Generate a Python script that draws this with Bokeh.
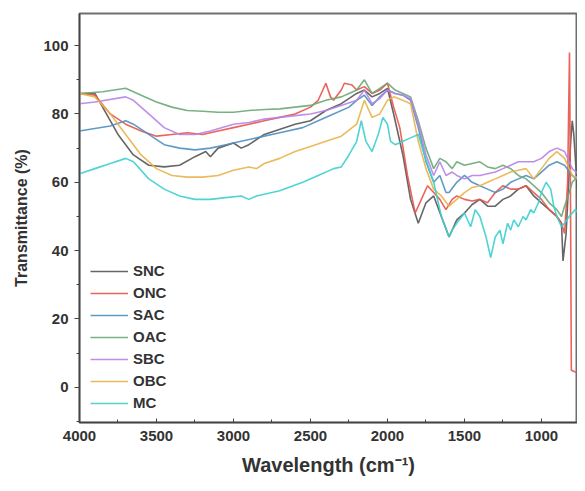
from bokeh.plotting import figure
from bokeh.models import Range1d, Legend, LegendItem, SingleIntervalTicker
from bokeh.embed import file_html
from bokeh.resources import INLINE

series_names = ["SNC", "ONC", "SAC", "OAC", "SBC", "OBC", "MC"]
series_colors = ["#555555", "#e8534a", "#4f8fc0", "#6aa877", "#b883e6", "#e9b24a", "#3ccfcf"]

snc_x = [4000, 3900, 3850, 3750, 3650, 3550, 3450, 3350, 3250, 3180, 3150, 3100, 3000, 2950, 2900, 2800, 2600, 2500, 2400, 2300, 2200, 2150, 2100, 2050, 2000, 1960, 1900, 1850, 1800, 1750, 1700, 1650, 1600, 1550, 1500, 1450, 1400, 1350, 1300, 1250, 1200, 1150, 1100, 1050, 1000, 950, 900, 870, 860, 840, 810, 800, 790, 770, 750, 730, 714]
snc_y = [86, 86, 82, 74, 68, 65, 64.5, 65, 67.5, 69, 67.5, 70, 71.5, 70, 71, 74, 77, 78, 81, 83, 86, 87, 85, 86, 87.5, 80, 68, 55, 48, 54, 56, 50, 44, 49, 51, 53.5, 55, 53, 53, 55, 56, 58, 59, 56, 54, 52, 50, 48, 37, 45, 72, 78, 74, 60, 40, 25, 20]

onc_x = [4000, 3900, 3800, 3700, 3600, 3500, 3400, 3300, 3200, 3100, 3000, 2900, 2800, 2700, 2600, 2500, 2450, 2400, 2370, 2350, 2300, 2280, 2230, 2200, 2150, 2100, 2050, 2000, 1960, 1920, 1870, 1820, 1780, 1740, 1700, 1660, 1620, 1580, 1550, 1500, 1450, 1400, 1350, 1300, 1250, 1200, 1150, 1100, 1050, 1000, 950, 900, 870, 850, 830, 818, 812, 806, 780, 714]
onc_y = [86, 85.5, 80, 77, 75, 73.5, 74, 74.5, 74, 75, 76, 77, 78, 79, 80, 82, 84, 89, 85, 84, 87, 89, 88.5, 87, 88, 86, 87, 89, 82, 76, 62, 51, 55, 59, 57, 55, 52, 55, 56, 55, 54.5, 55, 54, 57, 59, 58, 58, 59, 57, 55, 52, 50, 48, 45, 60, 98, 60, 5, 4.5, 4]

sac_x = [4000, 3800, 3700, 3650, 3550, 3450, 3350, 3250, 3150, 3050, 2950, 2850, 2700, 2550, 2450, 2350, 2250, 2200, 2150, 2100, 2050, 2000, 1950, 1900, 1850, 1800, 1750, 1700, 1660, 1620, 1600, 1550, 1500, 1450, 1400, 1350, 1300, 1250, 1200, 1150, 1100, 1050, 1000, 950, 900, 850, 800, 750, 714]
sac_y = [75, 76.5, 78, 77, 74, 71, 70, 69.5, 70, 71, 72, 73, 74.5, 76, 78, 80, 82, 84, 85.5, 82.5, 85, 87, 86, 85.5, 84, 76, 66, 60, 62, 57, 57, 60, 62, 60, 59, 58, 57, 58, 60, 61, 62, 61, 63, 65, 66, 65, 62, 60, 59]

oac_x = [4000, 3850, 3700, 3600, 3500, 3400, 3300, 3200, 3100, 3000, 2900, 2800, 2700, 2600, 2500, 2400, 2300, 2250, 2200, 2150, 2100, 2050, 2000, 1950, 1900, 1850, 1800, 1750, 1700, 1660, 1620, 1580, 1550, 1500, 1450, 1400, 1350, 1300, 1250, 1200, 1150, 1100, 1050, 1000, 950, 900, 870, 850, 820, 800, 760, 714]
oac_y = [86, 86.5, 87.5, 85.5, 83.5, 82, 81, 80.8, 80.5, 80.5, 81, 81.3, 81.5, 82, 82.5, 84, 85, 86, 87, 90, 86, 87.5, 89, 87, 86, 85, 78, 70, 64, 67, 66, 64, 66, 65, 65.5, 66, 64.5, 64, 65, 64, 62, 61, 59, 57, 54, 52, 50, 53, 57, 60, 62, 62]

sbc_x = [4000, 3900, 3700, 3650, 3550, 3450, 3350, 3250, 3150, 3000, 2900, 2800, 2700, 2600, 2500, 2400, 2300, 2200, 2150, 2100, 2050, 2000, 1950, 1900, 1850, 1800, 1750, 1700, 1660, 1620, 1580, 1550, 1500, 1450, 1400, 1350, 1300, 1250, 1200, 1150, 1100, 1050, 1000, 950, 900, 850, 800, 750, 714]
sbc_y = [83, 83.5, 85, 84, 80, 76, 74, 74, 75, 77, 77.5, 78.5, 79, 79.5, 80, 81, 82.5, 84, 87, 83, 84.5, 87, 86, 85.5, 84.5, 77, 68, 62, 66, 62, 63, 62, 61, 62, 62, 62.5, 63, 64, 65, 66, 66, 66, 67, 69, 70, 69, 64, 62, 61]

obc_x = [4000, 3900, 3800, 3700, 3600, 3500, 3400, 3300, 3200, 3100, 3000, 2900, 2850, 2800, 2700, 2600, 2500, 2400, 2300, 2200, 2150, 2100, 2050, 2000, 1960, 1900, 1850, 1800, 1750, 1700, 1650, 1600, 1550, 1500, 1450, 1400, 1350, 1300, 1250, 1200, 1150, 1100, 1050, 1000, 950, 900, 850, 800, 750, 714]
obc_y = [86, 85, 80, 74, 68, 64, 62, 61.5, 61.5, 62, 63.5, 64.5, 64, 65.5, 67, 69, 70.5, 72, 73.5, 77, 84, 79, 80, 84, 85, 84, 83, 72, 64, 58, 56, 53, 55, 57, 58.5, 59, 60, 61, 62, 63, 63.5, 64, 61, 64, 67, 69, 67, 62, 61, 60]

mc_x = [4000, 3900, 3800, 3700, 3650, 3550, 3450, 3350, 3250, 3150, 3050, 2950, 2900, 2850, 2700, 2550, 2450, 2350, 2300, 2250, 2200, 2170, 2140, 2100, 2060, 2030, 2000, 1980, 1950, 1900, 1850, 1800, 1760, 1700, 1650, 1600, 1580, 1550, 1500, 1460, 1430, 1400, 1360, 1330, 1300, 1270, 1250, 1220, 1200, 1180, 1150, 1120, 1100, 1070, 1050, 1020, 1000, 970, 940, 920, 900, 870, 850, 820, 780, 740, 714]
mc_y = [62.5, 64, 65.5, 67, 66, 61, 58, 56, 55, 55, 55.5, 56, 55, 56, 57.5, 60, 62, 64, 64.5, 68, 72, 78, 72, 69, 74, 79, 77, 72, 71, 72, 73, 74, 68, 60, 50, 44, 46, 48, 51, 47, 52, 50, 44, 38, 44, 46, 42, 48, 46, 49, 47, 50, 49, 52, 51, 54, 57, 60, 58, 53, 50, 47, 48, 50, 52, 50, 48]

xs = [snc_x, onc_x, sac_x, oac_x, sbc_x, obc_x, mc_x]
ys = [snc_y, onc_y, sac_y, oac_y, sbc_y, obc_y, mc_y]

p = figure(width=577, height=483, output_backend="svg", toolbar_location=None,
           x_range=Range1d(4000, 766), y_range=Range1d(-10.3, 109.4),
           min_border_left=79, min_border_right=0, min_border_top=13, min_border_bottom=61)
p.background_fill_color = "white"
p.border_fill_color = "white"
p.outline_line_color = "#6e6e6e"
p.outline_line_width = 2
p.grid.visible = False

items = []
for name, col, x, y in zip(series_names, series_colors, xs, ys):
    r = p.line(x, y, line_color=col, line_width=1.6, line_alpha=0.9)
    items.append(LegendItem(label=name, renderers=[r]))

legend = Legend(items=items, location=(11, 11), orientation="vertical",
                border_line_color=None, background_fill_alpha=0,
                glyph_width=38, glyph_height=16, label_height=16, spacing=5,
                padding=0, margin=0, label_standoff=5,
                label_text_font="Liberation Sans", label_text_font_style="bold",
                label_text_font_size="15px", label_text_color="#333333")
p.add_layout(legend)

p.xaxis.ticker = SingleIntervalTicker(interval=500, num_minor_ticks=2)
p.yaxis.ticker = SingleIntervalTicker(interval=20, num_minor_ticks=2)

for ax in [p.xaxis[0], p.yaxis[0]]:
    ax.axis_line_color = "#444444"
    ax.axis_line_width = 1.5
    ax.major_tick_line_color = "#444444"
    ax.minor_tick_line_color = "#444444"
    ax.major_label_text_font = "Liberation Sans"
    ax.major_label_text_font_style = "bold"
    ax.major_label_text_font_size = "15px"
    ax.major_label_text_color = "#333333"
    ax.axis_label_text_font = "Liberation Sans"
    ax.axis_label_text_font_style = "bold"
    ax.axis_label_text_color = "#333333"

p.xaxis.major_tick_in = 4
p.xaxis.major_tick_out = 0
p.xaxis.minor_tick_in = 3
p.xaxis.minor_tick_out = 0
p.yaxis.major_tick_in = 0
p.yaxis.major_tick_out = 5
p.yaxis.minor_tick_in = 0
p.yaxis.minor_tick_out = 3
p.xaxis.major_label_standoff = 8
p.yaxis.major_label_standoff = 6

p.xaxis.axis_label = "Wavelength (cm\u207b\u00b9)"
p.yaxis.axis_label = "Transmittance (%)"
p.xaxis.axis_label_text_font_size = "20px"
p.yaxis.axis_label_text_font_size = "16px"
p.xaxis.axis_label_standoff = 10
p.yaxis.axis_label_standoff = 10

open("out.html", "w").write(file_html(p, INLINE))
